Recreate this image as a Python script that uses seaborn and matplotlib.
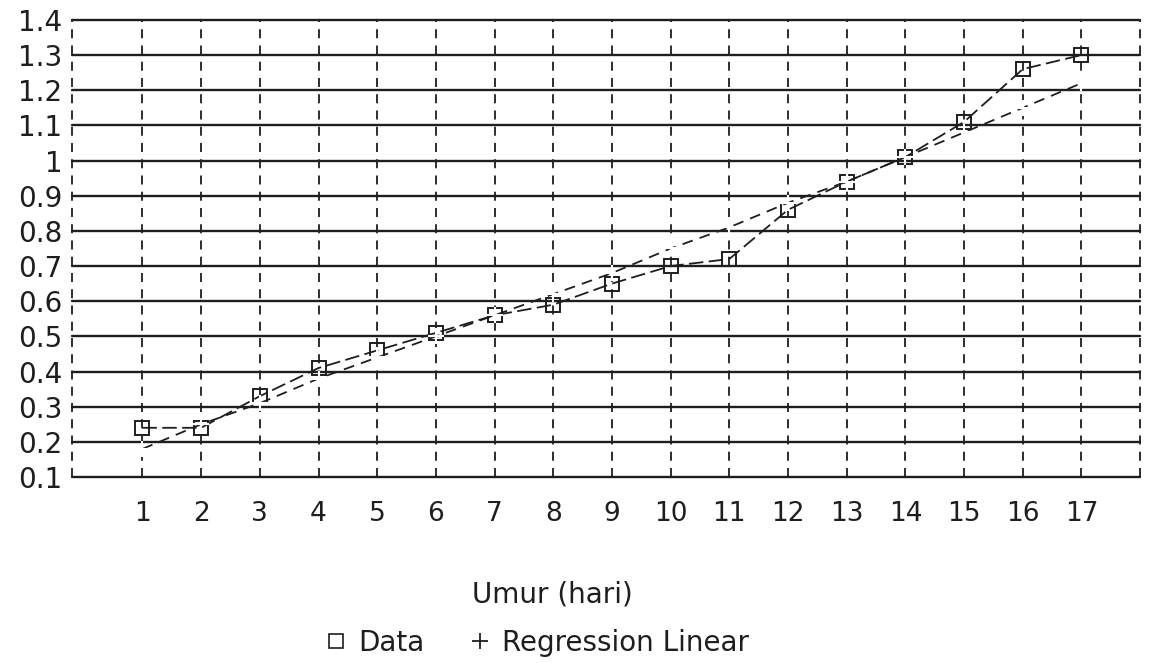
import numpy as np
import pandas as pd
import seaborn as sns
import matplotlib
matplotlib.use("Agg")
import matplotlib.pyplot as plt
from matplotlib.lines import Line2D

umur = [1, 2, 3, 4, 5, 6, 7, 8, 9, 10, 11, 12, 13, 14, 15, 16, 17]
data_vals = [0.24, 0.24, 0.33, 0.41, 0.46, 0.51, 0.56, 0.59, 0.65, 0.70,
             0.72, 0.86, 0.94, 1.01, 1.11, 1.26, 1.30]
regresi_vals = [0.18, 0.25, 0.31, 0.38, 0.44, 0.50, 0.56, 0.62, 0.68, 0.75,
                0.81, 0.88, 0.94, 1.01, 1.08, 1.15, 1.22]
y_ticks = [0.1, 0.2, 0.3, 0.4, 0.5, 0.6, 0.7, 0.8, 0.9, 1.0, 1.1, 1.2, 1.3, 1.4]
y_labels = ["0.1", "0.2", "0.3", "0.4", "0.5", "0.6", "0.7", "0.8", "0.9",
            "1", "1.1", "1.2", "1.3", "1.4"]
x_label = "Umur (hari)"
legend_labels = ["Data", "Regression Linear"]

sns.set_style("white")
plt.rcParams['font.family'] = ['DejaVu Sans']

df = pd.DataFrame({"umur": umur, "data": data_vals, "reg": regresi_vals})

fig = plt.figure(figsize=(11.54, 6.63), dpi=100)
ax = fig.add_axes([0.0624, 0.2805, 0.9256, 0.6895])

ink = "#1e1e1e"
# grid
for yv in y_ticks:
    ax.axhline(yv, color=ink, lw=1.7, zorder=1, clip_on=False)
for xv in [-0.2] + umur + [18]:
    ax.axvline(xv, color=ink, lw=1.3, ls=(0, (5, 4)), zorder=1, clip_on=False)

sns.lineplot(data=df, x="umur", y="data", ax=ax, color=ink, lw=1.3,
             ls=(0, (8, 3)), marker="s", markersize=10.5, markerfacecolor="none",
             markeredgecolor=ink, markeredgewidth=1.4, zorder=3)
sns.lineplot(data=df, x="umur", y="reg", ax=ax, color=ink, lw=1.3,
             ls=(0, (6, 4)), marker="+", markersize=12,
             markeredgewidth=1.5, zorder=3)

ax.set_xlim(-0.2, 18.0)
ax.set_ylim(0.1, 1.4)
ax.set_yticks(y_ticks)
ax.set_yticklabels(y_labels)
ax.set_xticks(umur)
ax.set_xticklabels([str(u) for u in umur])
ax.tick_params(axis="both", length=0, colors=ink)
ax.tick_params(axis="x", pad=17, labelsize=19)
ax.tick_params(axis="y", pad=7, labelsize=20)
ax.set_xlabel("")
ax.set_ylabel("")
for s in ["top", "right", "left", "bottom"]:
    ax.spines[s].set_visible(False)

fig.text(0.479, 0.1026, x_label, ha="center", va="center", fontsize=20, color=ink)

handles = [
    Line2D([], [], ls="none", marker="s", markersize=10, markerfacecolor="none",
           markeredgecolor=ink, markeredgewidth=1.2),
    Line2D([], [], ls="none", marker="+", markersize=12, color=ink,
           markeredgewidth=1.3),
]
fig.legend(handles, legend_labels, loc="center", bbox_to_anchor=(0.465, 0.03),
           ncol=2, frameon=False, fontsize=20, handletextpad=0.4,
           columnspacing=1.6, handlelength=0.8, labelcolor=ink)

fig.savefig("out.png", dpi=100)
